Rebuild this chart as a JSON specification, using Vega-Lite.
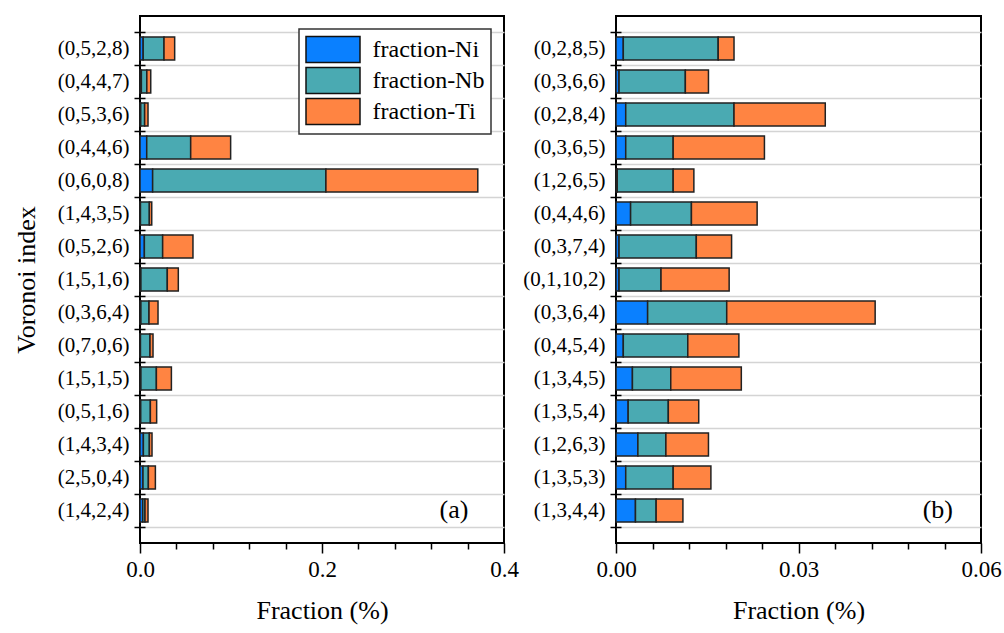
{
  "$schema": "https://vega.github.io/schema/vega-lite/v6.json",
  "padding": {"left": 12, "top": 4, "right": 5, "bottom": 5},
  "background": "white",
  "config": {
    "font": "Liberation Serif",
    "view": {"stroke": "black", "strokeWidth": 2},
    "axis": {"labelColor": "black", "titleColor": "black", "labelFont": "Liberation Serif", "titleFont": "Liberation Serif", "titleFontWeight": "normal", "tickColor": "black", "tickWidth": 1.5, "domain": false}
  },
  "datasets": {
    "a": [
      {"index": "(0,5,2,8)", "fraction-Ni": 0.0035, "fraction-Nb": 0.0229, "fraction-Ti": 0.0117},
      {"index": "(0,4,4,7)", "fraction-Ni": 0.0015, "fraction-Nb": 0.006, "fraction-Ti": 0.0043},
      {"index": "(0,5,3,6)", "fraction-Ni": 0.0008, "fraction-Nb": 0.0043, "fraction-Ti": 0.0037},
      {"index": "(0,4,4,6)", "fraction-Ni": 0.0074, "fraction-Nb": 0.0483, "fraction-Ti": 0.0439},
      {"index": "(0,6,0,8)", "fraction-Ni": 0.0139, "fraction-Nb": 0.1904, "fraction-Ti": 0.1669},
      {"index": "(1,4,3,5)", "fraction-Ni": 0.0005, "fraction-Nb": 0.0098, "fraction-Ti": 0.0026},
      {"index": "(0,5,2,6)", "fraction-Ni": 0.0048, "fraction-Nb": 0.0201, "fraction-Ti": 0.0333},
      {"index": "(1,5,1,6)", "fraction-Ni": 0.001, "fraction-Nb": 0.029, "fraction-Ti": 0.0121},
      {"index": "(0,3,6,4)", "fraction-Ni": 0.001, "fraction-Nb": 0.0089, "fraction-Ti": 0.0099},
      {"index": "(0,7,0,6)", "fraction-Ni": 0.0005, "fraction-Nb": 0.0105, "fraction-Ti": 0.0033},
      {"index": "(1,5,1,5)", "fraction-Ni": 0.001, "fraction-Nb": 0.017, "fraction-Ti": 0.0165},
      {"index": "(0,5,1,6)", "fraction-Ni": 0.0008, "fraction-Nb": 0.0106, "fraction-Ti": 0.0069},
      {"index": "(1,4,3,4)", "fraction-Ni": 0.0037, "fraction-Nb": 0.0066, "fraction-Ti": 0.0029},
      {"index": "(2,5,0,4)", "fraction-Ni": 0.0033, "fraction-Nb": 0.0059, "fraction-Ti": 0.0077},
      {"index": "(1,4,2,4)", "fraction-Ni": 0.003, "fraction-Nb": 0.0025, "fraction-Ti": 0.0033}
    ],
    "b": [
      {"index": "(0,2,8,5)", "fraction-Ni": 0.0012, "fraction-Nb": 0.0156, "fraction-Ti": 0.0026},
      {"index": "(0,3,6,6)", "fraction-Ni": 0.0005, "fraction-Nb": 0.0109, "fraction-Ti": 0.0038},
      {"index": "(0,2,8,4)", "fraction-Ni": 0.0016, "fraction-Nb": 0.0178, "fraction-Ti": 0.015},
      {"index": "(0,3,6,5)", "fraction-Ni": 0.0016, "fraction-Nb": 0.0078, "fraction-Ti": 0.015},
      {"index": "(1,2,6,5)", "fraction-Ni": 0.0002, "fraction-Nb": 0.0092, "fraction-Ti": 0.0034},
      {"index": "(0,4,4,6)", "fraction-Ni": 0.0024, "fraction-Nb": 0.01, "fraction-Ti": 0.0108},
      {"index": "(0,3,7,4)", "fraction-Ni": 0.0005, "fraction-Nb": 0.0127, "fraction-Ti": 0.0058},
      {"index": "(0,1,10,2)", "fraction-Ni": 0.0005, "fraction-Nb": 0.0069, "fraction-Ti": 0.0112},
      {"index": "(0,3,6,4)", "fraction-Ni": 0.0052, "fraction-Nb": 0.013, "fraction-Ti": 0.0244},
      {"index": "(0,4,5,4)", "fraction-Ni": 0.0012, "fraction-Nb": 0.0106, "fraction-Ti": 0.0084},
      {"index": "(1,3,4,5)", "fraction-Ni": 0.0027, "fraction-Nb": 0.0063, "fraction-Ti": 0.0116},
      {"index": "(1,3,5,4)", "fraction-Ni": 0.002, "fraction-Nb": 0.0066, "fraction-Ti": 0.005},
      {"index": "(1,2,6,3)", "fraction-Ni": 0.0036, "fraction-Nb": 0.0046, "fraction-Ti": 0.007},
      {"index": "(1,3,5,3)", "fraction-Ni": 0.0016, "fraction-Nb": 0.0078, "fraction-Ti": 0.0062},
      {"index": "(1,3,4,4)", "fraction-Ni": 0.0032, "fraction-Nb": 0.0034, "fraction-Ti": 0.0044}
    ]
  },
  "hconcat": [
    {
      "width": 364,
      "height": 527,
      "layer": [
        {
          "data": {"name": "a"},
          "transform": [
            {"fold": ["fraction-Ni", "fraction-Nb", "fraction-Ti"], "as": ["element", "fraction"]},
            {"window": [{"op": "row_number", "as": "k"}], "groupby": ["index"]}
          ],
          "mark": {"type": "bar", "height": {"band": 0.7}, "stroke": "#222222", "strokeWidth": 1.5},
          "encoding": {
            "y": {"field": "index", "type": "nominal",
              "sort": ["(0,5,2,8)", "(0,4,4,7)", "(0,5,3,6)", "(0,4,4,6)", "(0,6,0,8)", "(1,4,3,5)", "(0,5,2,6)", "(1,5,1,6)", "(0,3,6,4)", "(0,7,0,6)", "(1,5,1,5)", "(0,5,1,6)", "(1,4,3,4)", "(2,5,0,4)", "(1,4,2,4)"],
              "scale": {"paddingInner": 0, "paddingOuter": 0.485},
              "axis": {"title": "Voronoi index", "titleFontSize": 26, "titlePadding": 18, "labelFontSize": 21, "labelPadding": 5, "tickSize": 11, "offset": -5, "tickBand": "extent", "grid": true, "gridColor": "#d4d4d4", "gridWidth": 1.5}},
            "x": {"field": "fraction", "type": "quantitative", "stack": "zero",
              "scale": {"domain": [0, 0.4], "nice": false},
              "axis": {"orient": "bottom", "values": [0, 0.2, 0.4], "format": ".1f", "tickSize": 10, "labelFontSize": 23, "labelPadding": 5, "labelFlush": false, "labelOverlap": false, "title": "Fraction (%)", "titleFontSize": 26, "titlePadding": 16, "grid": false}},
            "order": {"field": "k", "type": "quantitative"},
            "color": {"field": "element", "type": "nominal",
              "sort": ["fraction-Ni", "fraction-Nb", "fraction-Ti"],
              "scale": {"domain": ["fraction-Ni", "fraction-Nb", "fraction-Ti"], "range": ["#0A80FF", "#4AAAB2", "#FF8442"]},
              "legend": {"title": null, "orient": "top-right", "offset": 13, "symbolType": "M-2,-0.96H2V0.96H-2Z", "symbolSize": 729, "symbolOffset": 13.5, "symbolStrokeColor": "#111111", "symbolStrokeWidth": 1.5, "symbolOpacity": 1, "labelFontSize": 24, "labelFont": "Liberation Serif", "labelColor": "black", "labelOffset": 25, "rowPadding": -5.5, "padding": 6, "strokeColor": "#333333", "fillColor": "white",
                "encode": {"legend": {"update": {"strokeWidth": {"value": 1.5}}}}}}
          }
        },
        {
          "data": {"values": [{"t": "(a)", "x": 0.345, "index": "(1,4,2,4)"}]},
          "mark": {"type": "text", "fontSize": 26, "font": "Liberation Serif", "color": "black", "align": "center", "baseline": "middle"},
          "encoding": {
            "text": {"field": "t"},
            "y": {"field": "index", "type": "nominal",
              "sort": ["(0,5,2,8)", "(0,4,4,7)", "(0,5,3,6)", "(0,4,4,6)", "(0,6,0,8)", "(1,4,3,5)", "(0,5,2,6)", "(1,5,1,6)", "(0,3,6,4)", "(0,7,0,6)", "(1,5,1,5)", "(0,5,1,6)", "(1,4,3,4)", "(2,5,0,4)", "(1,4,2,4)"]},
            "x": {"field": "x", "type": "quantitative",
              "scale": {"domain": [0, 0.4], "nice": false},
              "axis": {"orient": "bottom", "values": [0.04, 0.08, 0.12, 0.16, 0.24, 0.28, 0.32, 0.36], "labels": false, "tickSize": 6, "title": null, "grid": false}}
          }
        }
      ],
      "resolve": {"axis": {"x": "independent"}}
    },
    {
      "width": 365,
      "height": 527,
      "layer": [
        {
          "data": {"name": "b"},
          "transform": [
            {"fold": ["fraction-Ni", "fraction-Nb", "fraction-Ti"], "as": ["element", "fraction"]},
            {"window": [{"op": "row_number", "as": "k"}], "groupby": ["index"]}
          ],
          "mark": {"type": "bar", "height": {"band": 0.7}, "stroke": "#222222", "strokeWidth": 1.5},
          "encoding": {
            "y": {"field": "index", "type": "nominal",
              "sort": ["(0,2,8,5)", "(0,3,6,6)", "(0,2,8,4)", "(0,3,6,5)", "(1,2,6,5)", "(0,4,4,6)", "(0,3,7,4)", "(0,1,10,2)", "(0,3,6,4)", "(0,4,5,4)", "(1,3,4,5)", "(1,3,5,4)", "(1,2,6,3)", "(1,3,5,3)", "(1,3,4,4)"],
              "scale": {"paddingInner": 0, "paddingOuter": 0.485},
              "axis": {"title": null, "labelFontSize": 21, "labelPadding": 5, "tickSize": 11, "offset": -5, "tickBand": "extent", "grid": true, "gridColor": "#d4d4d4", "gridWidth": 1.5}},
            "x": {"field": "fraction", "type": "quantitative", "stack": "zero",
              "scale": {"domain": [0, 0.06], "nice": false},
              "axis": {"orient": "bottom", "values": [0, 0.03, 0.06], "format": ".2f", "tickSize": 10, "labelFontSize": 23, "labelPadding": 5, "labelFlush": false, "labelOverlap": false, "title": "Fraction (%)", "titleFontSize": 26, "titlePadding": 16, "grid": false}},
            "order": {"field": "k", "type": "quantitative"},
            "color": {"field": "element", "type": "nominal",
              "sort": ["fraction-Ni", "fraction-Nb", "fraction-Ti"],
              "scale": {"domain": ["fraction-Ni", "fraction-Nb", "fraction-Ti"], "range": ["#0A80FF", "#4AAAB2", "#FF8442"]},
              "legend": null}
          }
        },
        {
          "data": {"values": [{"t": "(b)", "x": 0.0529, "index": "(1,3,4,4)"}]},
          "mark": {"type": "text", "fontSize": 26, "font": "Liberation Serif", "color": "black", "align": "center", "baseline": "middle"},
          "encoding": {
            "text": {"field": "t"},
            "y": {"field": "index", "type": "nominal",
              "sort": ["(0,2,8,5)", "(0,3,6,6)", "(0,2,8,4)", "(0,3,6,5)", "(1,2,6,5)", "(0,4,4,6)", "(0,3,7,4)", "(0,1,10,2)", "(0,3,6,4)", "(0,4,5,4)", "(1,3,4,5)", "(1,3,5,4)", "(1,2,6,3)", "(1,3,5,3)", "(1,3,4,4)"]},
            "x": {"field": "x", "type": "quantitative",
              "scale": {"domain": [0, 0.06], "nice": false},
              "axis": {"orient": "bottom", "values": [0.006, 0.012, 0.018, 0.024, 0.036, 0.042, 0.048, 0.054], "labels": false, "tickSize": 6, "title": null, "grid": false}}
          }
        }
      ],
      "resolve": {"axis": {"x": "independent"}}
    }
  ],
  "spacing": 112,
  "bounds": "flush",
  "resolve": {"scale": {"color": "independent"}, "legend": {"color": "independent"}}
}
